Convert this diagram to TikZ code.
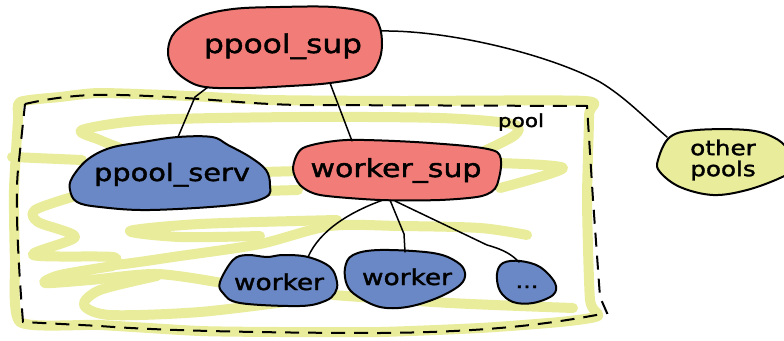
\documentclass[tikz,border=0pt]{standalone}
\usepackage{fontspec}
\newfontfamily\hand[FakeStretch=1.2,FakeBold=1.6]{DejaVu Sans}
\definecolor{supred}{HTML}{F27C77}
\definecolor{wblue}{HTML}{6A88C5}
\definecolor{ylw}{HTML}{E9EC9A}
\begin{document}
\begin{tikzpicture}[x=1pt,y=-1pt,
  scrib/.style={draw=ylw, line width=10pt, line cap=round, line join=round},
  blob/.style={draw=black, line width=2pt, line join=round},
  conn/.style={draw=black, line width=1.5pt, line cap=round, line join=round},
  lbl/.style={inner sep=0pt, text=black},
  poolframe/.style={draw=black, line width=2pt, dash pattern=on 14pt off 9pt},
]
\useasboundingbox (0,0) rectangle (784,340);

% ---------- yellow scribble ----------
\draw[scrib] plot[smooth cycle, tension=0.35] coordinates {(20,102) (60,97) (100,93) (190,96) (270,100) (400,101) (585,101) (589,115) (587,200) (590,300) (598,316) (560,322) (480,328) (380,332) (280,332) (200,331) (100,325) (20,322) (15,260) (14,190) (18,120)};
\draw[scrib] plot[smooth, tension=0.5] coordinates {(482,152) (515,135) (512,124) (440,118) (300,117) (150,120) (82,130) (100,140) (120,148)};
\draw[scrib] (12,157) -- (82,160);
\draw[scrib] (262,172) -- (300,171);
\draw[scrib] (262,191) -- (298,190);
\draw[scrib] plot[smooth, tension=0.5] coordinates {(495,163) (563,168) (500,188)};
\draw[scrib] plot[smooth, tension=0.5] coordinates {(72,197) (35,210) (38,222) (75,237) (33,255) (113,257) (113,265) (180,256) (260,244) (330,226) (400,226) (480,228) (527,235)};
\draw[scrib] plot[smooth, tension=0.5] coordinates {(337,220) (200,224) (130,231) (180,237) (260,236)};
\draw[scrib] plot[smooth, tension=0.5] coordinates {(113,266) (60,275) (45,283) (90,280) (157,274) (222,283)};
\draw[scrib] plot[smooth, tension=0.5] coordinates {(157,276) (100,290) (84,305) (110,315) (200,312) (300,300)};
\draw[scrib] plot[smooth, tension=0.5] coordinates {(333,295) (450,303) (573,308)};

% ---------- dashed pool frame ----------
\draw[poolframe] (25,104) .. controls (60,96) and (90,94) .. (120,95)
  .. controls (200,97) and (240,104) .. (300,105) -- (587,106) -- (593,200)
  -- (600,297) -- (607,313) .. controls (560,322) and (500,332) .. (380,333)
  .. controls (250,333) and (150,330) .. (100,326) -- (23,322)
  .. controls (18,260) and (15,200) .. (18,170) -- cycle;
\node[lbl, font=\hand\fontsize{18}{20}\selectfont, anchor=base] (poollbl) at (521,127) {pool};

% ---------- blobs ----------
\draw[blob, fill=supred] plot[smooth cycle, tension=0.6] coordinates {(168,50) (175,32) (198,17) (233,9) (280,7) (333,7) (368,13) (379,25) (382,45) (378,63) (366,76) (330,83) (290,86) (245,88) (205,87) (185,79) (172,66)};
\draw[blob, fill=wblue] plot[smooth cycle, tension=0.6] coordinates {(178,137) (212,137) (228,145) (250,157) (266,170) (270,185) (266,197) (233,205) (150,210) (100,207) (77,202) (70,190) (72,178) (87,160) (110,148) (143,142)};
\draw[blob, fill=supred] plot[smooth cycle, tension=0.45] coordinates {(303,148) (347,140) (430,143) (497,152) (497,185) (482,196) (440,200) (380,200) (320,195) (300,185) (293,168)};
\draw[blob, fill=wblue] plot[smooth cycle, tension=0.6] coordinates {(220,282) (233,260) (247,255) (267,257) (283,255) (308,257) (330,267) (337,282) (335,293) (325,301) (300,306) (240,303) (223,293)};
\draw[blob, fill=wblue] plot[smooth cycle, tension=0.6] coordinates {(345,268) (353,255) (380,250) (433,253) (457,262) (465,273) (460,285) (437,298) (407,307) (380,307) (357,296) (347,285)};
\draw[blob, fill=wblue] plot[smooth cycle, tension=0.6] coordinates {(497,274) (503,263) (520,261) (540,267) (555,283) (553,295) (533,303) (513,302) (500,291)};
\draw[blob, fill=ylw] plot[smooth cycle, tension=0.6] coordinates {(658,160) (670,137) (697,130) (747,130) (773,137) (788,150) (790,170) (780,178) (747,190) (713,195) (680,187) (660,172)};

% ---------- labels ----------
\node[lbl, font=\hand\fontsize{26}{30}\selectfont, anchor=base] (sup) at (283,53) {ppool\_sup};
\node[lbl, font=\hand\fontsize{24}{28}\selectfont, anchor=base] (serv) at (172,181) {ppool\_serv};
\node[lbl, font=\hand\fontsize{25}{30}\selectfont, anchor=base] (wsup) at (396,177) {worker\_sup};
\node[lbl, font=\hand\fontsize{22}{26}\selectfont, anchor=base] (w1) at (279,290) {worker};
\node[lbl, font=\hand\fontsize{22}{26}\selectfont, anchor=base] (w2) at (407,285) {worker};
\node[lbl, font=\hand\fontsize{20}{24}\selectfont, anchor=base] (dots) at (527,288) {...};
\node[lbl, font=\hand\fontsize{20.5}{22}\selectfont, align=center] (other) at (723,160) {other\\[-1pt]pools};

% ---------- attachment points ----------
\coordinate (supS1) at (208,87);
\coordinate (supS2) at (330,83);
\coordinate (supE) at (381,31);
\coordinate (servN) at (178,137);
\coordinate (wsupN) at (352,141);
\coordinate (wsupS1) at (383,200);
\coordinate (wsupS2) at (390,200);
\coordinate (wsupS3) at (395,201);
\coordinate (w1N) at (308,257);
\coordinate (w2N) at (405,252);
\coordinate (dotsN) at (519,262);
\coordinate (otherNW) at (667,137);

% ---------- connectors ----------
\draw[conn] (supS1) -- (195,97) -- (servN);
\draw[conn] (supS2) -- (wsupN);
\draw[conn] (wsupS1) .. controls (350,212) and (320,230) .. (w1N);
\draw[conn] (wsupS2) -- (404,234) -- (w2N);
\draw[conn] (wsupS3) -- (487,245) .. controls (505,250) and (512,255) .. (dotsN);
\draw[conn] (supE) .. controls (450,30) and (550,55) .. (600,82) .. controls (625,97) and (645,118) .. (otherNW);
\end{tikzpicture}
\end{document}
